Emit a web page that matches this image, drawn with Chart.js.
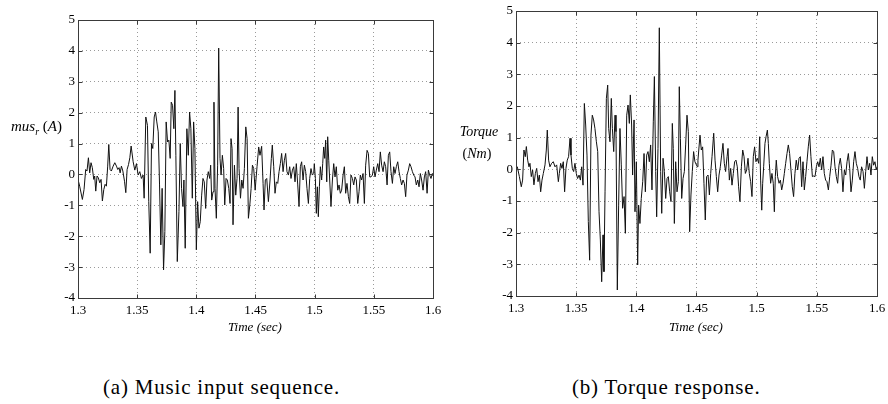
<!DOCTYPE html>
<html>
<head>
<meta charset="utf-8">
<script src="https://cdn.jsdelivr.net/npm/chart.js@4/dist/chart.umd.min.js"></script>
<style>
body{margin:0;width:888px;height:404px;overflow:hidden;background:#fff;position:relative;font-family:"Liberation Serif","Times New Roman","DejaVu Serif",serif;color:#000}
canvas{position:absolute;top:0}
.lab{position:absolute;white-space:nowrap;font-style:italic;font-size:13px;line-height:15px}
.cap{position:absolute;white-space:nowrap;font-size:21px;line-height:21px;letter-spacing:0.8px}
</style>
</head>
<body>
<canvas id="chartA" width="450" height="340" style="left:0"></canvas>
<canvas id="chartB" width="460" height="340" style="left:440px"></canvas>

<div class="lab" style="left:255px;top:326px;transform:translate(-50%,-50%)">Time (sec)</div>
<div class="lab" style="left:696px;top:326px;transform:translate(-50%,-50%)">Time (sec)</div>
<div class="lab" style="left:11px;top:129px;transform:translateY(-50%);font-size:15px"><i>mus</i><sub style="font-size:10px">r</sub> <span style="font-style:normal">(</span><i>A</i><span style="font-style:normal">)</span></div>
<div class="lab" style="left:479px;top:131px;transform:translate(-50%,-50%);font-size:14px">Torque</div>
<div class="lab" style="left:477px;top:153px;transform:translate(-50%,-50%);font-size:14px"><span style="font-style:normal">(</span>Nm<span style="font-style:normal">)</span></div>

<div class="cap" style="left:103px;top:377px">(a) Music input sequence.</div>
<div class="cap" style="left:572px;top:377px">(b) Torque response.</div>

<script>
// ticks
var xTicks = [1.3, 1.35, 1.4, 1.45, 1.5, 1.55, 1.6]
var yTicks = [-4, -3, -2, -1, 0, 1, 2, 3, 4, 5]

// (a) music input, time (sec) / value
var timeMus = [
1.3000,1.3014,1.3037,1.3051,1.3065,1.3076,1.3088,1.3099,1.3110,1.3121,1.3133,1.3141,1.3150,1.3161,1.3172,1.3184,1.3195,1.3206,1.3218,1.3229,
1.3240,1.3251,1.3260,1.3271,1.3282,1.3297,1.3311,1.3325,1.3336,1.3347,1.3356,1.3367,1.3379,1.3393,1.3404,1.3415,1.3427,1.3438,1.3449,
1.3466,1.3480,1.3494,1.3508,1.3522,1.3536,1.3550,1.3559,1.3573,1.3587,1.3598,1.3610,1.3621,1.3632,1.3644,1.3655,1.3666,1.3678,1.3689,1.3700,
1.3711,1.3723,1.3734,1.3745,1.3757,1.3768,1.3779,1.3788,1.3799,1.3810,1.3819,1.3827,1.3839,1.3853,1.3864,1.3875,1.3887,1.3895,1.3906,1.3920,
1.3932,1.3943,1.3954,1.3966,1.3977,1.3988,1.4000,1.4011,1.4022,1.4033,1.4045,1.4056,1.4067,1.4079,1.4090,1.4101,1.4113,1.4121,1.4130,1.4141,
1.4149,1.4158,1.4169,1.4180,1.4189,1.4200,1.4209,1.4220,1.4231,1.4240,1.4251,1.4262,1.4274,1.4285,1.4293,1.4302,1.4310,1.4322,1.4333,1.4344,
1.4353,1.4361,1.4373,1.4384,1.4395,1.4406,1.4418,1.4429,1.4440,1.4452,1.4463,1.4474,1.4485,1.4497,
1.4507,1.4513,1.4527,1.4538,1.4552,1.4564,1.4572,1.4583,1.4595,1.4609,1.4623,1.4634,1.4642,1.4654,1.4665,1.4676,1.4688,1.4699,1.4710,1.4721,
1.4733,1.4744,1.4755,1.4766,1.4778,1.4789,1.4800,1.4812,1.4823,1.4834,1.4845,1.4857,1.4868,1.4879,1.4890,1.4902,1.4913,1.4924,1.4935,1.4947,
1.4958,1.4969,1.4980,1.4992,1.4997,1.5006,1.5014,1.5023,1.5031,1.5040,1.5048,1.5059,1.5068,1.5076,1.5085,1.5093,1.5102,1.5110,1.5119,1.5127,
1.5138,1.5150,1.5161,1.5172,1.5183,1.5195,1.5206,1.5217,1.5228,1.5240,1.5251,1.5262,1.5273,1.5285,1.5296,1.5307,1.5319,1.5330,1.5341,1.5352,
1.5364,1.5375,1.5386,1.5397,1.5409,1.5420,1.5431,1.5443,1.5454,1.5465,1.5476,1.5488,1.5499,1.5510,1.5521,1.5533,1.5544,1.5555,1.5566,1.5578,
1.5589,1.5600,1.5612,1.5623,1.5634,1.5645,1.5657,1.5668,1.5679,1.5690,1.5702,1.5713,1.5724,1.5735,1.5747,1.5758,1.5769,1.5780,1.5792,1.5803,
1.5814,1.5826,1.5837,1.5848,1.5859,1.5871,1.5882,1.5893,1.5904,1.5916,1.5927,1.5938,1.5950,1.5961,1.5972,1.5983,1.5995,1.6000]
var valMus = [
-0.16,-0.38,-0.81,-0.49,0.16,0.11,0.54,0.05,0.38,0.22,-0.16,-0.05,-0.54,-0.05,-0.11,-0.27,-0.16,-0.86,-0.49,-0.32,
-0.38,0.27,0.97,0.16,0.11,0.27,0.38,0.27,0.16,0.22,0.05,0.27,0.11,-0.22,-0.59,0.16,0.32,0.54,0.92,
0.41,0.14,0.35,-0.02,0.09,-0.13,-0.02,-0.77,1.86,1.59,-0.88,-2.55,1.0,0.84,1.86,2.02,1.70,1.38,-0.34,-2.28,
-0.45,-3.09,-1.85,1.70,1.05,1.11,0.52,2.34,2.24,1.48,2.72,0.62,-2.82,-1.20,1.0,-0.45,-1.04,-0.18,-2.39,1.48,
0.62,2.02,1.48,-0.77,1.70,0.84,-2.44,-0.88,-1.74,-1.53,-0.67,-0.13,-0.24,-1.10,-0.18,0.09,-0.13,0.30,-0.83,-0.56,
2.34,-0.45,-1.42,0.30,4.09,0.52,-0.02,0.62,0.19,-0.99,-0.13,-0.18,-0.45,-0.94,1.16,0.84,-1.63,0.30,-0.67,-0.13,
2.18,0.19,-0.77,-0.18,-0.45,0.19,1.54,1.16,-1.42,-0.99,-0.45,0.30,0.19,-0.51,
-0.02,0.25,0.89,0.62,0.91,-0.29,-1.15,-0.18,-0.13,-0.88,-0.18,0.52,0.95,0.25,-0.61,-0.24,-0.29,0.09,0.35,0.68,
0.09,0.46,0.68,0.09,-0.02,0.25,-0.13,0.14,0.25,-0.24,0.35,-0.34,-1.04,0.25,0.41,-0.18,0.30,0.09,-0.45,-0.94,
-0.13,0.19,-0.02,0.03,0.35,-0.13,-1.26,-0.40,-1.37,-0.40,0.25,-0.18,0.35,0.89,0.52,1.11,-0.24,1.22,0.46,-0.18,
-1.04,-0.18,0.35,-0.08,0.25,-0.51,-0.34,-0.61,-0.51,-0.02,0.25,-0.61,-0.29,-0.72,-0.94,-0.02,-0.13,-0.34,-0.08,-0.18,
-0.94,-0.56,-0.02,-0.18,0.03,-0.94,0.30,0.78,0.68,-0.08,-0.08,-0.02,0.25,-0.08,0.14,0.35,0.09,0.73,0.30,0.09,
0.41,0.25,-0.34,0.62,0.73,0.09,-0.29,0.25,0.03,0.25,0.41,0.09,-0.13,-0.34,-0.18,-0.29,-0.72,-0.02,0.14,0.35,
0.25,0.09,-0.02,-0.08,-0.34,-0.18,-0.40,0.03,-0.18,-0.51,-0.08,0.09,-0.61,0.14,-0.02,-0.13,0.03,-0.05]

// (b) torque response, time (sec) / Nm
var timeTorque = [
1.3000,1.3011,1.3028,1.3044,1.3055,1.3066,1.3077,1.3086,1.3097,1.3108,1.3116,1.3127,1.3138,1.3149,1.3161,1.3172,1.3183,1.3194,1.3205,1.3216,
1.3227,1.3241,1.3252,1.3260,1.3271,1.3282,1.3296,1.3310,1.3324,1.3338,1.3352,1.3360,1.3371,1.3382,1.3393,1.3404,1.3415,1.3426,1.3437,
1.3449,1.3457,1.3468,1.3479,1.3490,1.3501,1.3512,1.3524,1.3535,1.3546,1.3557,1.3568,1.3579,1.3590,1.3601,1.3612,1.3623,1.3634,1.3645,1.3656,
1.3668,1.3679,1.3690,1.3701,1.3712,1.3723,1.3731,1.3740,1.3751,1.3762,1.3770,1.3781,1.3792,1.3801,1.3812,1.3823,1.3831,1.3842,1.3853,1.3864,
1.3875,1.3886,1.3898,1.3909,1.3920,1.3931,1.3942,1.3950,1.3961,1.3969,1.3981,1.3989,1.4000,1.4011,1.4019,1.4030,1.4041,1.4053,1.4064,1.4075,
1.4086,1.4097,1.4108,1.4119,1.4130,1.4141,1.4150,1.4161,1.4169,1.4180,1.4191,1.4202,1.4211,1.4222,1.4233,1.4244,1.4255,1.4266,1.4277,1.4288,
1.4299,1.4307,1.4316,1.4327,1.4338,1.4349,1.4357,1.4366,1.4377,1.4388,1.4399,1.4410,1.4421,1.4432,1.4443,1.4454,1.4465,1.4476,1.4487,
1.4507,1.4512,1.4529,1.4540,1.4551,1.4562,1.4573,1.4584,1.4596,1.4607,1.4618,1.4629,1.4643,1.4654,1.4665,1.4676,1.4687,1.4698,1.4709,1.4720,
1.4731,1.4742,1.4754,1.4762,1.4773,1.4784,1.4795,1.4806,1.4817,1.4828,1.4839,1.4850,1.4861,1.4873,1.4884,1.4895,1.4906,1.4917,1.4928,1.4939,
1.4950,1.4961,1.4972,1.4983,1.4994,1.5005,1.5017,1.5025,1.5033,1.5042,1.5050,1.5058,1.5069,1.5078,1.5089,1.5097,1.5105,1.5116,1.5127,1.5138,
1.5147,1.5155,1.5163,1.5174,1.5186,1.5197,1.5208,1.5219,1.5230,1.5241,1.5252,1.5263,1.5274,1.5285,1.5296,1.5307,1.5318,1.5329,1.5341,1.5352,
1.5363,1.5374,1.5385,1.5396,1.5407,1.5418,1.5429,1.5440,1.5451,1.5463,1.5474,1.5485,1.5496,1.5507,1.5518,1.5529,1.5540,1.5551,1.5562,1.5573,
1.5584,1.5596,1.5607,1.5618,1.5629,1.5640,1.5651,1.5662,1.5673,1.5684,1.5695,1.5706,1.5717,1.5729,1.5740,1.5751,1.5762,1.5773,1.5784,1.5795,
1.5806,1.5817,1.5828,1.5839,1.5850,1.5861,1.5872,1.5884,1.5895,1.5906,1.5917,1.5928,1.5939,1.5950,1.5961,1.5972,1.5983,1.5994,1.6000]
var valTorque = [
0.03,0.08,-0.23,-0.55,-0.34,0.61,0.40,0.72,0.29,0.08,0.19,-0.23,-0.02,-0.49,-0.13,0.03,-0.39,-0.18,-0.71,-0.34,
-0.13,0.14,0.61,1.24,0.29,0.08,0.19,0.24,0.08,0.14,-0.39,-0.13,0.19,0.03,0.24,-0.71,0.03,0.29,0.40,
0.98,0.45,0.03,-0.07,0.19,-0.13,-0.29,-0.18,-0.34,0.08,-0.50,2.08,1.40,0.45,-1.65,-2.87,1.08,1.71,1.56,1.29,
0.87,0.56,-1.34,-2.23,-3.55,-2.07,-3.23,-0.71,2.24,2.66,1.29,0.87,2.24,1.29,0.56,1.71,1.19,-3.81,-1.13,1.29,
0.14,-1.23,-0.86,-2.02,1.71,2.03,1.45,2.35,1.40,-0.18,1.56,-1.34,0.24,-3.02,-1.13,-1.71,-0.92,-0.39,0.50,-0.71,
0.45,0.56,0.24,0.77,-0.65,1.50,2.93,-0.07,-1.50,0.66,4.47,-0.07,-1.39,0.35,-0.07,-0.92,-0.29,-0.23,-0.71,-1.02,
1.45,0.66,-1.71,0.24,-0.71,-0.39,2.61,0.98,-0.92,-0.29,-0.07,0.77,1.71,1.19,-1.97,-0.81,-0.07,0.56,0.24,
0.08,0.29,1.08,0.61,0.71,-0.44,-1.60,-0.23,-0.18,-0.81,-0.13,0.40,1.14,0.29,-0.23,-0.71,-0.18,0.08,0.45,0.82,
0.19,-0.07,0.40,0.66,-0.34,0.03,-0.50,-0.13,0.24,0.29,0.08,-0.55,-1.02,0.08,0.61,0.40,-0.13,-0.02,0.35,-0.13,
-0.39,-0.86,0.40,0.71,0.24,0.35,0.19,1.03,-0.34,-1.29,-0.44,0.08,0.82,1.03,1.24,0.82,0.19,-0.44,-0.13,-0.44,
-1.34,-0.23,0.29,-0.23,-0.44,-0.34,-0.65,-0.44,-0.13,0.19,0.50,0.77,0.50,-0.02,-0.55,-0.86,-0.13,0.29,-0.02,0.35,
0.40,-0.55,0.24,-0.65,-0.23,0.24,0.71,1.08,0.40,-0.23,-0.21,-0.23,0.08,0.24,0.08,0.35,-0.02,0.40,-0.13,-0.34,
-0.39,-0.65,-0.23,0.13,0.61,0.56,0.08,-0.23,-0.44,0.13,0.35,0.03,-0.71,-0.02,-0.18,0.24,0.50,0.03,-0.71,-0.34,
0.24,0.56,0.19,0.03,-0.23,-0.34,0.08,-0.07,-0.60,-0.07,0.40,-0.02,0.19,-0.18,0.40,0.13,0.24,-0.02,0.08]

function points(t, v){
	var pts = []
	for(var i=0;i<Math.min(t.length, v.length);i++){
		pts.push({x: t[i], y: v[i]})
	}
	return pts
}

// matlab-ish frame with inward ticks on all 4 sides
var cadre = {
	id: "cadre",
	afterDraw(c){
		var ctx = c.ctx, a = c.chartArea, sx = c.scales.x, sy = c.scales.y
		var l = Math.round(a.left)+0.5, r = Math.round(a.right)+0.5
		var t = Math.round(a.top)+0.5, b = Math.round(a.bottom)+0.5
		ctx.save()
		ctx.strokeStyle = "#3a3a3a"
		ctx.lineWidth = 1
		ctx.strokeRect(l, t, r-l, b-t)
		ctx.beginPath()
		for(var i=0;i<xTicks.length;i++){
			var px = Math.round(sx.getPixelForValue(xTicks[i]))+0.5
			ctx.moveTo(px, b); ctx.lineTo(px, b-4)
			ctx.moveTo(px, t); ctx.lineTo(px, t+4)
		}
		for(var j=0;j<yTicks.length;j++){
			var py = Math.round(sy.getPixelForValue(yTicks[j]))+0.5
			ctx.moveTo(l, py); ctx.lineTo(l+4, py)
			ctx.moveTo(r, py); ctx.lineTo(r-4, py)
		}
		ctx.stroke()
		ctx.restore()
	}
}

function trace(id, t, v, pad, yw, xh){
	var police = {family: "'Liberation Serif', 'Times New Roman', serif", size: 13}
	return new Chart(id, {
		type: "line",
		data: {datasets: [{data: points(t, v), borderColor: "#111", borderWidth: 1, pointRadius: 0, tension: 0, fill: false}]},
		options: {
			responsive: false,
			animation: false,
			devicePixelRatio: 1,
			layout: {padding: pad},
			plugins: {legend: {display: false}, tooltip: {enabled: false}},
			scales: {
				x: {
					type: "linear", min: 1.3, max: 1.6,
					afterBuildTicks: function(s){ s.ticks = xTicks.map(function(x){ return {value: x} }) },
					afterFit: function(s){ s.height = xh },
					grid: {color: "#9a9a9a", lineWidth: 1, drawTicks: false},
					border: {display: false, dash: [1, 3]},
					ticks: {color: "#000", font: police, padding: 5, maxRotation: 0, autoSkip: false,
						callback: function(x){ return Number(x.toFixed(2)).toString() }}
				},
				y: {
					min: -4, max: 5,
					afterBuildTicks: function(s){ s.ticks = yTicks.map(function(y){ return {value: y} }) },
					afterFit: function(s){ s.width = yw },
					grid: {color: "#9a9a9a", lineWidth: 1, drawTicks: false},
					border: {display: false, dash: [1, 3]},
					ticks: {color: "#000", font: police, padding: 3,
						callback: function(y){ return String(y) }}
				}
			}
		},
		plugins: [cadre]
	})
}

trace("chartA", timeMus, valMus, {left: 0, top: 20, right: 17, bottom: 0}, 78, 42)
trace("chartB", timeTorque, valTorque, {left: 0, top: 11, right: 23, bottom: 0}, 76, 44)
</script>
</body>
</html>
